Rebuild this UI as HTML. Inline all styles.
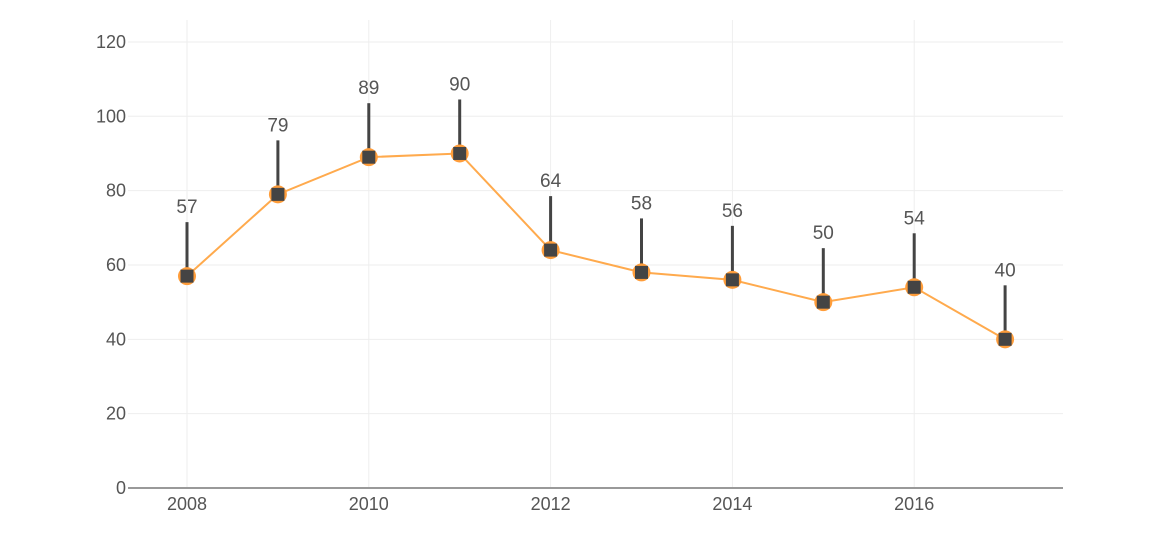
<!DOCTYPE html>
<html><head><meta charset="utf-8"><style>
body{margin:0;background:#fff;}
svg{display:block;font-family:"Liberation Sans",sans-serif;}
</style></head><body>
<svg id="c" width="1163" height="557"></svg>
<script>
const years=[2008,2009,2010,2011,2012,2013,2014,2015,2016,2017];
const values=[57,79,89,90,64,58,56,50,54,40];
const yTicks=[0,20,40,60,80,100,120];
const xTicks=[2008,2010,2012,2014,2016];
const svg=document.getElementById('c');
const NS='http://www.w3.org/2000/svg';
const x=v=>187+(v-2008)*90.9;
const y=v=>488-v*3.717;
function mk(t,a,p){const e=document.createElementNS(NS,t);for(const k in a)e.setAttribute(k,a[k]);(p||svg).appendChild(e);return e;}
yTicks.forEach(t=>{
  if(t>0){const g=mk('line',{x1:128,x2:1063,y1:y(t),y2:y(t),stroke:'#eeeeee','stroke-width':1});
  
  }
  const l=mk('text',{x:126,y:y(t)+6,'text-anchor':'end','font-size':18,fill:'#555'});
  l.textContent=t;
  
  
});
xTicks.forEach(t=>{
  const g=mk('line',{x1:x(t),x2:x(t),y1:20,y2:488,stroke:'#eeeeee','stroke-width':1});
  
  
  const l=mk('text',{x:x(t),y:510,'text-anchor':'middle','font-size':18,fill:'#555'});
  l.textContent=t;
  
  
});
const ax=mk('line',{x1:128,x2:1063,y1:488,y2:488,stroke:'#999','stroke-width':2});


const ln=mk('polyline',{points:years.map((d,i)=>x(d)+','+y(values[i])).join(' '),fill:'none',stroke:'#ffaa4d','stroke-width':2});


years.forEach((d,i)=>{
  const cx=x(d),cy=y(values[i]);
  const s=mk('line',{x1:cx,x2:cx,y1:cy,y2:cy-54,stroke:'#444','stroke-width':3});
  
  
  const c=mk('circle',{cx:cx,cy:cy,r:9,fill:'#ff9d3a'});
  
  
  const r=mk('rect',{x:cx-6.5,y:cy-6.5,width:13,height:13,fill:'#444'});
  
  
  const t=mk('text',{x:cx,y:cy-63,'text-anchor':'middle','font-size':19,fill:'#555'});
  t.textContent=values[i];
  
  
});
</script>
</body></html>
